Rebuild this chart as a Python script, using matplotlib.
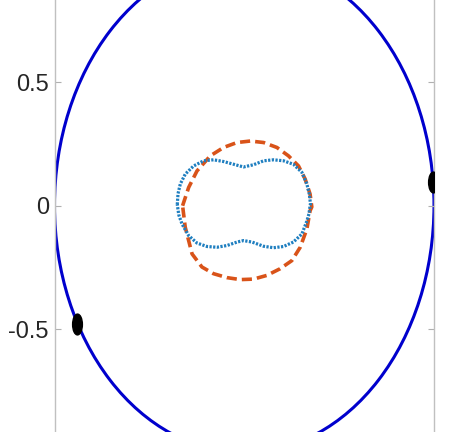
import matplotlib
matplotlib.use("Agg")
import matplotlib.pyplot as plt
from matplotlib.patches import Circle
from matplotlib.path import Path
from matplotlib.transforms import Affine2D

# outer unit circle and two points sitting on it
circle_radius = 1.0
dots_x = [0.995, -0.879]
dots_y = [0.097, -0.481]

# dotted blue peanut-shaped curve
blue_x = [-0.353, -0.349, -0.337, -0.311, -0.267, -0.214, -0.162, -0.109, -0.056, -0.004,
          0.049, 0.102, 0.154, 0.207, 0.259, 0.304, 0.330, 0.343, 0.349,
          0.347, 0.341, 0.330, 0.304, 0.259, 0.207, 0.154, 0.102, 0.041, -0.004,
          -0.038, -0.091, -0.144, -0.196, -0.249, -0.293, -0.328, -0.345, -0.353]
blue_y = [0.004, 0.048, 0.087, 0.127, 0.160, 0.181, 0.185, 0.178, 0.167, 0.156,
          0.165, 0.181, 0.185, 0.181, 0.167, 0.134, 0.087, 0.046, 0.006,
          -0.001, -0.034, -0.063, -0.115, -0.148, -0.166, -0.171, -0.165, -0.148, -0.142,
          -0.148, -0.162, -0.169, -0.166, -0.152, -0.122, -0.075, -0.038, 0.004]

# dashed orange curve
orange_x = [-0.325, -0.293, -0.249, -0.179, -0.109, -0.038, 0.032, 0.102, 0.172,
            0.233, 0.286, 0.321, 0.347, 0.356, 0.347, 0.330, 0.295, 0.251,
            0.189, 0.119, 0.049, -0.021, -0.091, -0.162, -0.223, -0.275,
            -0.311, -0.325]
orange_y = [-0.001, 0.073, 0.140, 0.201, 0.235, 0.255, 0.261, 0.255, 0.235,
            0.201, 0.160, 0.107, 0.046, -0.006, -0.021, -0.095, -0.169, -0.223,
            -0.256, -0.283, -0.298, -0.300, -0.292, -0.276, -0.249, -0.196,
            -0.088, -0.001]

yticks = [-0.5, 0, 0.5]
ytick_labels = ["-0.5", "0", "0.5"]

fig = plt.figure(figsize=(4.71, 4.32), dpi=100)
ax = fig.add_axes([54.5 / 471, 0, 379.5 / 471, 1])

ax.add_patch(Circle((0, 0), circle_radius, fill=False, edgecolor="#0000cd", lw=2.2))

ax.plot(orange_x, orange_y, color="#d95319", lw=2.6, dashes=(2.8, 1.4))
ax.plot(blue_x, blue_y, color="#1f7fc0", lw=2.3, dashes=(0.7, 0.45))

# tall, narrow marker like the stretched original
oval = Path.unit_circle().transformed(Affine2D().scale(0.47, 1.0))
ax.plot(dots_x, dots_y, linestyle="none", marker=oval, markersize=15,
        color="black", zorder=5)

ax.set_xlim(-1.0, 1.0)
ax.set_ylim(-0.917, 0.832)
ax.set_xticks([])
ax.set_yticks(yticks)
ax.set_yticklabels(ytick_labels, family=["Liberation Sans", "DejaVu Sans"],
                   fontsize=17, color="#262626")
ax.tick_params(axis="y", direction="in", length=4, width=0.8, color="#b0b0b0",
               right=True, pad=4)
for side in ["top", "bottom"]:
    ax.spines[side].set_visible(False)
for side in ["left", "right"]:
    ax.spines[side].set_color("#c0c0c0")
    ax.spines[side].set_linewidth(1.0)

fig.savefig("out.png", dpi=100)
